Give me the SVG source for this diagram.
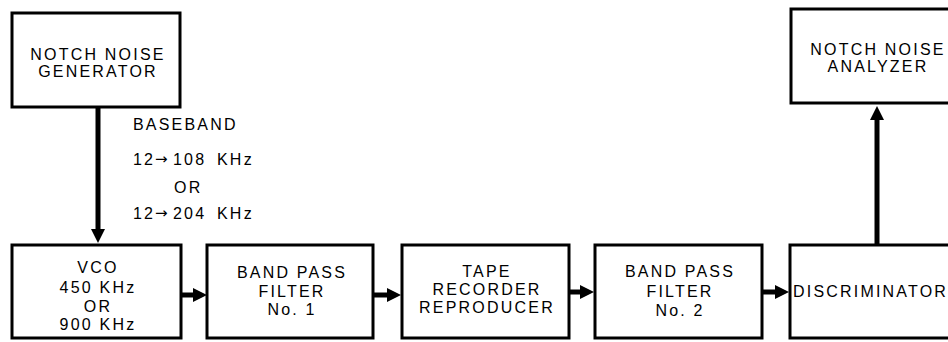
<svg xmlns="http://www.w3.org/2000/svg" width="948" height="342" viewBox="0 0 948 342">
<style>
.box{fill:#fff;stroke:#000;stroke-width:3}
.t{font-family:"Liberation Sans",Arial,sans-serif;font-size:16px;fill:#000;letter-spacing:2.2px}
.c{text-anchor:middle}
.con{stroke:#000;stroke-width:5;fill:none}
.arr{font-family:"DejaVu Sans",sans-serif;font-size:15px;letter-spacing:0}
</style>
<defs>
<marker id="ah" markerUnits="userSpaceOnUse" markerWidth="14" markerHeight="14" refX="0" refY="7" orient="auto">
<path d="M0,0 L14,7 L0,14 z" fill="#000"/>
</marker>
</defs>
<rect width="948" height="342" fill="#fff"/>
<g id="generator">
<rect class="box" x="12" y="13" width="168" height="94"/>
<text class="t c" x="98" y="60">NOTCH NOISE</text>
<text class="t c" x="98" y="77">GENERATOR</text>
</g>
<g id="vco">
<rect class="box" x="12" y="245" width="169" height="93"/>
<text class="t c" x="98" y="273">VCO</text>
<text class="t c" x="98" y="293">450 KHz</text>
<text class="t c" x="98" y="312">OR</text>
<text class="t c" x="98" y="330">900 KHz</text>
</g>
<g id="bpf1">
<rect class="box" x="207" y="245" width="166" height="93"/>
<text class="t c" x="292" y="278">BAND PASS</text>
<text class="t c" x="292" y="297">FILTER</text>
<text class="t c" x="292" y="315">No. 1</text>
</g>
<g id="tape">
<rect class="box" x="402" y="245" width="167" height="93"/>
<text class="t c" x="487" y="277">TAPE</text>
<text class="t c" x="487" y="295">RECORDER</text>
<text class="t c" x="487" y="313">REPRODUCER</text>
</g>
<g id="bpf2">
<rect class="box" x="595" y="245" width="167" height="93"/>
<text class="t c" x="680" y="277">BAND PASS</text>
<text class="t c" x="680" y="297">FILTER</text>
<text class="t c" x="680" y="316">No. 2</text>
</g>
<g id="discriminator">
<rect class="box" x="790" y="245" width="170" height="93"/>
<text class="t" x="793" y="297">DISCRIMINATOR</text>
</g>
<g id="analyzer">
<rect class="box" x="791" y="9" width="170" height="94"/>
<text class="t c" x="878" y="55">NOTCH NOISE</text>
<text class="t c" x="878" y="72">ANALYZER</text>
</g>
<g id="baseband-label">
<text class="t" x="133" y="130">BASEBAND</text>
<text class="t" x="133" y="165">12<tspan class="arr" x="155" y="164">→</tspan><tspan x="173" y="165">108 </tspan><tspan x="217">KHz</tspan></text>
<text class="t" x="174" y="193">OR</text>
<text class="t" x="133" y="219">12<tspan class="arr" x="155" y="218">→</tspan><tspan x="173" y="219">204 </tspan><tspan x="217">KHz</tspan></text>
</g>
<g id="connectors">
<line class="con" x1="98" y1="107" x2="98" y2="229" marker-end="url(#ah)"/>
<line class="con" x1="181" y1="295" x2="193" y2="295" marker-end="url(#ah)"/>
<line class="con" x1="373" y1="295" x2="387" y2="295" marker-end="url(#ah)"/>
<line class="con" x1="569" y1="292" x2="580" y2="292" marker-end="url(#ah)"/>
<line class="con" x1="762" y1="292" x2="775" y2="292" marker-end="url(#ah)"/>
<line class="con" x1="877" y1="245" x2="877" y2="120" marker-end="url(#ah)"/>
</g>
</svg>
